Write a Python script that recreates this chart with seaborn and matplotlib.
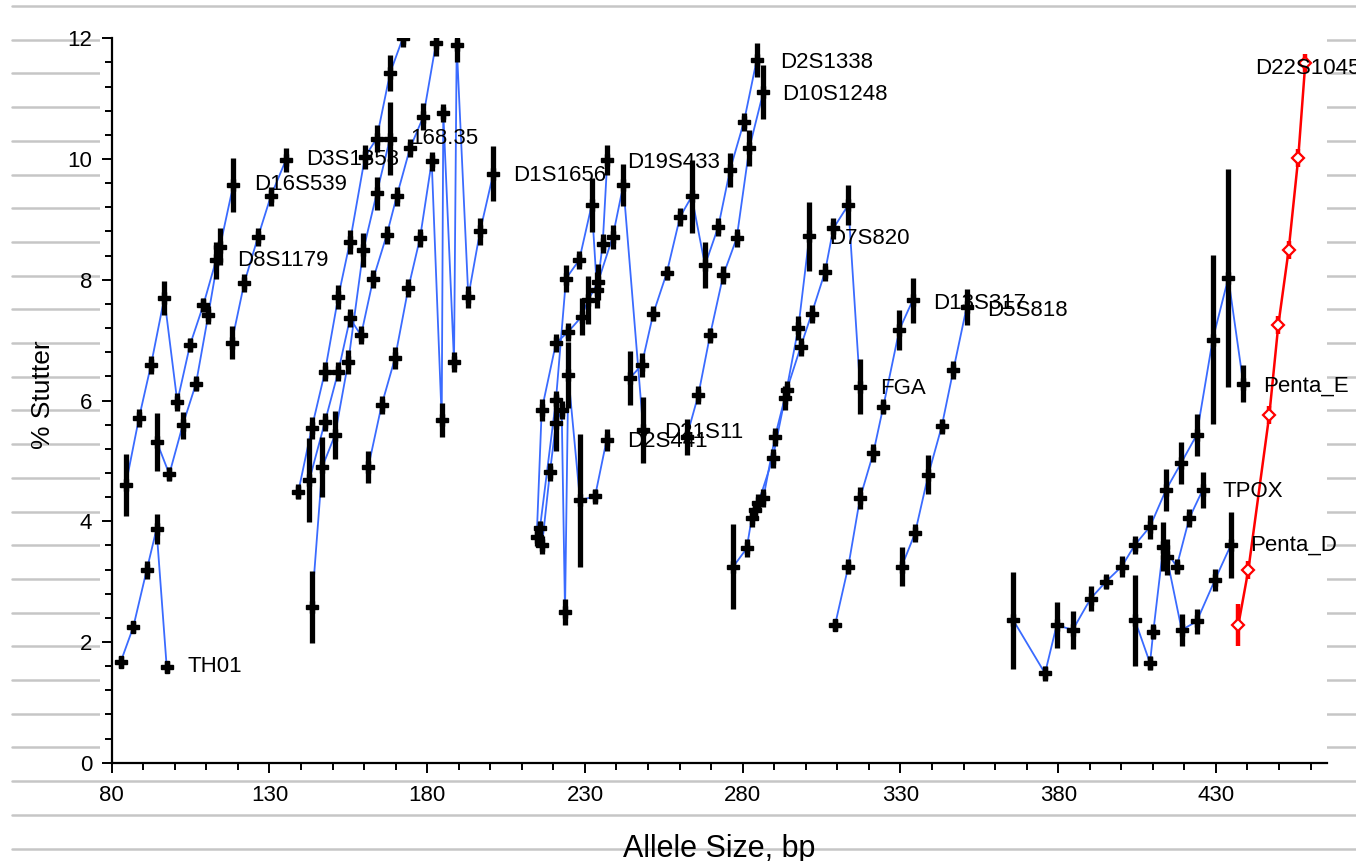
import numpy as np
import pandas as pd
import seaborn as sns
import matplotlib
matplotlib.use("Agg")
import matplotlib.pyplot as plt
from matplotlib.lines import Line2D
from matplotlib.patches import Rectangle

# ---------------- data (allele size bp, % stutter, error) ----------------
TH01_bp = [82.85, 86.85, 91.09, 94.2, 97.43]
TH01_st = [1.67, 2.25, 3.19, 3.87, 1.59]
TH01_err = [0.1, 0.1, 0.15, 0.25, 0.1]

D8S1179_bp = [84.44, 88.65, 92.46, 96.67, 100.79, 104.82, 109.03, 113.06]
D8S1179_st = [4.60, 5.71, 6.59, 7.70, 5.98, 6.92, 7.58, 8.32]
D8S1179_err = [0.52, 0.15, 0.15, 0.28, 0.15, 0.12, 0.12, 0.3]

D16S539_bp = [94.26, 98.26, 102.5, 106.72, 110.62, 114.33, 118.54]
D16S539_st = [5.32, 4.78, 5.59, 6.28, 7.42, 8.55, 9.57]
D16S539_err = [0.48, 0.12, 0.22, 0.12, 0.15, 0.3, 0.45]

D3S1358_bp = [118.03, 122.03, 126.37, 130.4, 135.25]
D3S1358_st = [6.96, 7.95, 8.71, 9.38, 9.99]
D3S1358_err = [0.28, 0.15, 0.15, 0.15, 0.2]

vWA_bp = [139.15, 143.39, 147.61, 151.82, 155.53, 160.29, 163.99, 168.21, 172.23]
vWA_st = [4.49, 5.54, 6.48, 7.72, 8.63, 10.04, 10.34, 11.42, 12.0]
vWA_err = [0.12, 0.18, 0.15, 0.2, 0.2, 0.2, 0.22, 0.3, 0.15]

D12S391_bp = [143.39, 146.75, 150.78, 154.99, 159.75, 163.99, 168.21]
D12S391_st = [2.58, 4.9, 5.43, 6.64, 8.49, 9.43, 10.34]
D12S391_err = [0.6, 0.5, 0.4, 0.2, 0.28, 0.27, 0.6]

D18S51_bp = [142.63, 147.61, 151.82, 155.53, 159.02, 162.92, 167.16, 170.33,
             174.55, 178.76, 182.79]
D18S51_st = [4.68, 5.65, 6.48, 7.36, 7.08, 8.02, 8.74, 9.38, 10.18, 10.7, 11.92]
D18S51_err = [0.7, 0.15, 0.15, 0.15, 0.15, 0.15, 0.15, 0.15, 0.15, 0.22, 0.22]

D1S1656_bp = [161.33, 165.58, 169.79, 174.01, 177.72, 181.43, 184.6, 185.1,
              188.5, 189.35, 193.03, 196.74, 200.95]
D1S1656_st = [4.9, 5.93, 6.7, 7.86, 8.69, 9.96, 5.68, 10.76, 6.64, 11.89,
              7.72, 8.8, 9.76]
D1S1656_err = [0.27, 0.15, 0.18, 0.15, 0.15, 0.15, 0.28, 0.15, 0.17, 0.28,
               0.18, 0.23, 0.45]

D2S441_bp = [216.39, 218.92, 220.81, 222.63, 223.68, 224.72, 228.43, 233.19, 236.89]
D2S441_st = [3.6, 4.82, 5.62, 5.84, 2.5, 6.42, 4.35, 4.41, 5.35]
D2S441_err = [0.15, 0.15, 0.45, 0.15, 0.22, 0.55, 1.1, 0.12, 0.18]

D19S433_bp = [215.75, 220.81, 224.0, 228.21, 232.14, 233.82, 235.63, 237.08]
D19S433_st = [3.89, 6.01, 8.02, 8.33, 9.24, 7.83, 8.6, 9.98]
D19S433_err = [0.12, 0.15, 0.22, 0.15, 0.45, 0.3, 0.15, 0.25]

D21S11_bp = [214.71, 216.29, 220.81, 224.72, 228.97, 230.97, 234.14, 238.8,
             242.15, 248.49]
D21S11_st = [3.74, 5.84, 6.95, 7.14, 7.39, 7.66, 7.96, 8.71, 9.57, 5.51]
D21S11_err = [0.15, 0.18, 0.15, 0.15, 0.3, 0.4, 0.3, 0.2, 0.35, 0.55]

D2S1338_bp = [244.28, 247.99, 251.66, 255.91, 260.13, 263.84, 268.05, 272.27,
              275.98, 280.41, 284.44]
D2S1338_st = [6.37, 6.59, 7.44, 8.11, 9.04, 9.38, 8.24, 8.88, 9.82, 10.62, 11.64]
D2S1338_err = [0.45, 0.2, 0.12, 0.12, 0.15, 0.6, 0.38, 0.15, 0.28, 0.15, 0.28]

D10S1248_bp = [262.25, 265.93, 269.64, 273.85, 278.1, 282.09, 286.53]
D10S1248_st = [5.4, 6.09, 7.08, 8.08, 8.69, 10.18, 11.11]
D10S1248_err = [0.3, 0.15, 0.12, 0.15, 0.15, 0.3, 0.45]

D7S820_bp = [277.02, 281.27, 282.85, 284.94, 289.51, 293.41, 297.62, 301.11]
D7S820_st = [3.25, 3.55, 4.05, 4.3, 5.04, 6.04, 7.2, 8.72]
D7S820_err = [0.7, 0.15, 0.15, 0.15, 0.15, 0.2, 0.2, 0.57]

FGA_bp = [283.9, 286.53, 290.24, 293.95, 298.38, 301.87, 306.09, 308.72,
          313.47, 317.18]
FGA_st = [4.19, 4.38, 5.4, 6.17, 6.89, 7.44, 8.13, 8.85, 9.24, 6.23]
FGA_err = [0.15, 0.15, 0.15, 0.15, 0.15, 0.15, 0.15, 0.18, 0.33, 0.45]

D13S317_bp = [309.26, 313.47, 317.18, 321.4, 324.57, 329.64, 333.88]
D13S317_st = [2.28, 3.25, 4.38, 5.13, 5.9, 7.17, 7.66]
D13S317_err = [0.1, 0.12, 0.18, 0.15, 0.12, 0.33, 0.37]

D5S818_bp = [330.4, 334.61, 338.83, 343.08, 346.75, 351.0]
D5S818_st = [3.25, 3.8, 4.77, 5.57, 6.5, 7.55]
D5S818_err = [0.33, 0.15, 0.32, 0.12, 0.15, 0.3]

Penta_E_bp = [365.77, 375.82, 379.52, 384.6, 390.3, 395.15, 400.13, 404.34,
              409.1, 414.17, 418.92, 423.9, 428.97, 433.92, 438.67]
Penta_E_st = [2.36, 1.48, 2.28, 2.2, 2.72, 3.0, 3.25, 3.61, 3.91, 4.52, 4.96,
              5.43, 7.01, 8.03, 6.28]
Penta_E_err = [0.8, 0.12, 0.38, 0.32, 0.2, 0.12, 0.18, 0.15, 0.2, 0.35, 0.35,
               0.35, 1.4, 1.8, 0.3]

TPOX_bp = [404.34, 409.1, 410.14, 413.31, 417.56, 421.55, 425.8]
TPOX_st = [2.36, 1.65, 2.17, 3.58, 3.25, 4.05, 4.52]
TPOX_err = [0.75, 0.12, 0.12, 0.4, 0.12, 0.15, 0.3]

Penta_D_bp = [414.39, 419.14, 423.9, 429.7, 434.77]
Penta_D_st = [3.41, 2.2, 2.34, 3.03, 3.61]
Penta_D_err = [0.3, 0.26, 0.2, 0.18, 0.55]

D22S1045_bp = [437.09, 440.26, 446.91, 449.77, 453.06, 456.07, 458.32]
D22S1045_st = [2.28, 3.19, 5.76, 7.25, 8.5, 10.01, 11.59]
D22S1045_err = [0.35, 0.15, 0.15, 0.15, 0.15, 0.15, 0.15]

# (series name, label text or None, bp, stutter, err, label offset px)
series = [
    ("TH01", "TH01", TH01_bp, TH01_st, TH01_err, (21, 0)),
    ("D8S1179", "D8S1179", D8S1179_bp, D8S1179_st, D8S1179_err, (21, 0)),
    ("D16S539", "D16S539", D16S539_bp, D16S539_st, D16S539_err, (21, 0)),
    ("D3S1358", "D3S1358", D3S1358_bp, D3S1358_st, D3S1358_err, (20, 0)),
    ("vWA", None, vWA_bp, vWA_st, vWA_err, (20, 0)),
    ("D12S391", "168.35", D12S391_bp, D12S391_st, D12S391_err, (20, 0)),
    ("D18S51", None, D18S51_bp, D18S51_st, D18S51_err, (20, 0)),
    ("D1S1656", "D1S1656", D1S1656_bp, D1S1656_st, D1S1656_err, (20, -2)),
    ("D2S441", "D2S441", D2S441_bp, D2S441_st, D2S441_err, (20, -2)),
    ("D19S433", "D19S433", D19S433_bp, D19S433_st, D19S433_err, (20, -2)),
    ("D21S11", "D21S11", D21S11_bp, D21S11_st, D21S11_err, (21, -2)),
    ("D2S1338", "D2S1338", D2S1338_bp, D2S1338_st, D2S1338_err, (23, -2)),
    ("D10S1248", "D10S1248", D10S1248_bp, D10S1248_st, D10S1248_err, (19, -2)),
    ("D7S820", "D7S820", D7S820_bp, D7S820_st, D7S820_err, (20, -2)),
    ("FGA", "FGA", FGA_bp, FGA_st, FGA_err, (20, -2)),
    ("D13S317", "D13S317", D13S317_bp, D13S317_st, D13S317_err, (20, -3)),
    ("D5S818", "D5S818", D5S818_bp, D5S818_st, D5S818_err, (20, -4)),
    ("Penta_E", "Penta_E", Penta_E_bp, Penta_E_st, Penta_E_err, (20, -3)),
    ("TPOX", "TPOX", TPOX_bp, TPOX_st, TPOX_err, (20, -2)),
    ("Penta_D", "Penta_D", Penta_D_bp, Penta_D_st, Penta_D_err, (19, 0)),
    ("D22S1045", "D22S1045", D22S1045_bp, D22S1045_st, D22S1045_err, (-50, -5)),
]

x_ticks = [80, 130, 180, 230, 280, 330, 380, 430]
y_ticks = [0, 2, 4, 6, 8, 10, 12]
y_ticklabels = ["0", "2", "4", "6", "8", "10", "12"]

BLUE = "#3a6bff"
RED = "#ff0000"

# ---------------- figure ----------------
sns.set_theme(style="white")
plt.rcParams["font.family"] = ["Liberation Sans", "DejaVu Sans"]

W, H = 1356, 861
fig = plt.figure(figsize=(W / 100, H / 100), dpi=100, facecolor="white")

# striped background behind the chart
for k in range(26):
    yy = 6 + 33.7 * k
    fig.add_artist(Line2D([12 / W, 1.0], [1 - yy / H, 1 - yy / H],
                          transform=fig.transFigure, color="#c6c6c6",
                          lw=1.8, zorder=-3))
fig.add_artist(Rectangle((100 / W, 1 - 776 / H), (1327 - 100) / W, (776 - 20) / H,
                         transform=fig.transFigure, facecolor="white",
                         edgecolor="none", zorder=-2))

ax = fig.add_axes([111.7 / W, 1 - 762.7 / H, (1327 - 111.7) / W, (762.7 - 38.3) / H])
ax.set_facecolor("none")

rows = []
for name, lab, bp, st, er, off in series:
    for b, s in zip(bp, st):
        rows.append((name, b, s))
df = pd.DataFrame(rows, columns=["locus", "bp", "stutter"])
palette = {name: (RED if name == "D22S1045" else BLUE) for name, *_ in series}

sns.lineplot(data=df, x="bp", y="stutter", hue="locus", palette=palette,
             estimator=None, sort=False, legend=False, linewidth=1.3, ax=ax,
             zorder=2)
for ln in ax.lines:
    if matplotlib.colors.same_color(ln.get_color(), RED):
        ln.set_linewidth(1.8)

for name, lab, bp, st, er, off in series:
    if name == "D22S1045":
        ax.errorbar(bp, st, yerr=er, fmt="D", ms=6, mfc="white", mec=RED,
                    mew=1.6, ecolor=RED, elinewidth=3.2, capsize=0, zorder=4)
    else:
        ax.errorbar(bp, st, yerr=er, fmt="P", ms=9, color="black",
                    ecolor="black", elinewidth=3.8, capsize=0, zorder=3)
    if lab is not None:
        ax.annotate(lab, xy=(bp[-1], st[-1]), xytext=off,
                    textcoords="offset pixels", ha="left", va="center",
                    fontsize=16, color="black", zorder=6,
                    annotation_clip=False)

ax.set_xlim(80, 465.2)
ax.set_ylim(0, 12)
ax.set_xticks(x_ticks)
ax.set_xticklabels([str(t) for t in x_ticks])
ax.set_xticks([t for t in range(90, 461, 10) if t not in x_ticks], minor=True)
ax.set_yticks(y_ticks)
ax.set_yticklabels(y_ticklabels)
ax.set_yticks([round(0.4 * i, 1) for i in range(31) if (i % 5) != 0], minor=True)

for sp in ["top", "right"]:
    ax.spines[sp].set_visible(False)
for sp in ["left", "bottom"]:
    ax.spines[sp].set_color("black")
    ax.spines[sp].set_linewidth(1.6)

ax.tick_params(which="both", direction="out", color="black", bottom=True,
               left=True, width=1.4, labelsize=16, labelcolor="black")
ax.tick_params(which="major", length=7)
ax.tick_params(which="minor", length=5)
ax.tick_params(axis="y", which="major", pad=7)
ax.tick_params(axis="x", which="major", pad=9)
ax.set_xlabel("")
ax.set_ylabel("")

fig.text(719 / W, 1 - 857 / H, "Allele Size, bp", ha="center", va="baseline",
         fontsize=22, color="black")
fig.text(43 / W, 1 - 395 / H, "% Stutter", ha="center", va="center",
         rotation=90, fontsize=19, color="black")

fig.savefig("out.png", dpi=100, facecolor="white")
